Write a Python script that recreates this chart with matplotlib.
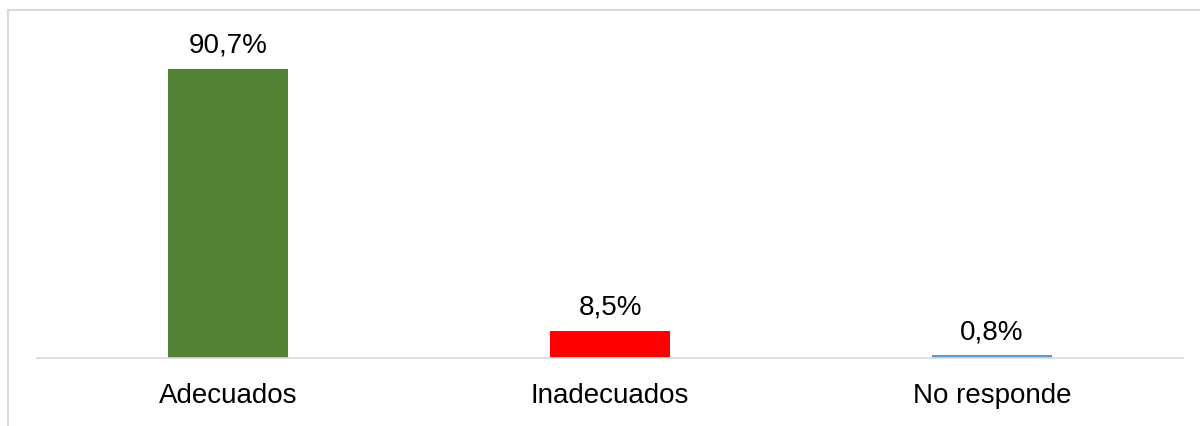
import matplotlib.pyplot as plt
from matplotlib.patches import Rectangle

plt.rcParams['font.family'] = ['Liberation Sans', 'DejaVu Sans']

categorias = ["Adecuados", "Inadecuados", "No responde"]
valores = [90.7, 8.5, 0.8]
etiquetas = ["90,7%", "8,5%", "0,8%"]
colores = ['#548235', '#ff0000', '#5b9bd5']

fig = plt.figure(figsize=(12, 4.27), dpi=100)
W, H = 1200, 427

# borde exterior del gráfico
fig.patches.append(Rectangle((8 / W, -0.1), 1.2, (427 - 11) / H + 0.1, transform=fig.transFigure,
                             fill=False, edgecolor='#d9d9d9', linewidth=1.5))

ax = fig.add_axes([37 / W, (H - 359) / H, (1183 - 37) / W, (359 - 20) / H])
x = range(len(categorias))
ax.bar(x, valores, width=0.314, color=colores)
for i, v in enumerate(valores):
    ax.text(i, v + 7.6, etiquetas[i], ha='center', va='center', fontsize=20)

ax.set_xlim(-0.5, 2.5)
ax.set_ylim(0, 106.4)
ax.set_xticks(list(x))
ax.set_xticklabels(categorias, fontsize=20)
ax.tick_params(axis='x', length=0, pad=17)
ax.set_yticks([])
for s in ['top', 'right', 'left']:
    ax.spines[s].set_visible(False)
ax.spines['bottom'].set_color('#d9d9d9')
ax.spines['bottom'].set_linewidth(1.2)

fig.savefig('out.png', dpi=100)
